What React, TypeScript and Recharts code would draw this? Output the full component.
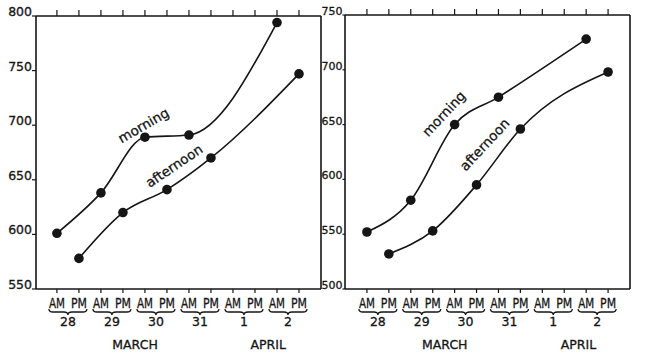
import React from 'react';
import { LineChart, Line, XAxis, YAxis, ReferenceDot } from 'recharts';

// ---- data ----
const slotLabels = ['AM', 'PM', 'AM', 'PM', 'AM', 'PM', 'AM', 'PM', 'AM', 'PM', 'AM', 'PM'];
const slotTicks = slotLabels.map((_, i) => i);
const dayLabels = ['28', '29', '30', '31', '1', '2'];
const dayTicks = [0.5, 2.5, 4.5, 6.5, 8.5, 10.5];
const monthLabels = ['MARCH', 'APRIL'];
const morningSlots = [0, 2, 4, 6, 10];
const afternoonSlots = [1, 3, 5, 7, 11];

const leftMorning = [601, 638, 689, 691, 794];
const leftAfternoon = [578, 620, 641, 670, 747];
const rightMorning = [552, 581, 650, 675, 728];
const rightAfternoon = [532, 553, 595, 646, 698];

const leftYTicks = [550, 600, 650, 700, 750, 800];
const rightYTicks = [500, 550, 600, 650, 700, 750];

const FONT = '"DejaVu Sans", "Liberation Sans", sans-serif';
const INK = '#151515';

const toSeries = (slots: number[], vals: number[]) => slots.map((s, k) => ({ i: s, v: vals[k] }));

const AmPmTick = (p: any) => (
  <text x={p.x} y={p.y + 15} textAnchor="middle" fontSize={13.5} fontFamily={FONT} fill={INK}
    stroke={INK} strokeWidth={0.3} textLength={16} lengthAdjust="spacingAndGlyphs">
    {slotLabels[p.payload.value]}
  </text>
);

const DayTick = (p: any) => {
  const idx = dayTicks.indexOf(p.payload.value);
  const x = p.x;
  const t = p.y - 2;
  const w = 19;
  const d = `M${x - w},${t} Q${x - w},${t + 3} ${x - w + 4},${t + 3} L${x - 4},${t + 3} Q${x},${t + 3} ${x},${t + 6} Q${x},${t + 3} ${x + 4},${t + 3} L${x + w - 4},${t + 3} Q${x + w},${t + 3} ${x + w},${t}`;
  return (
    <g>
      <path d={d} fill="none" stroke={INK} strokeWidth={1.3} />
      <text x={x} y={p.y + 14.5} textAnchor="middle" fontSize={12.5} fontFamily={FONT} fill={INK}
        stroke={INK} strokeWidth={0.3}>
        {dayLabels[idx]}
      </text>
    </g>
  );
};

const makeMonthTick = (ticks: number[]) => (p: any) => {
  const idx = ticks.indexOf(p.payload.value);
  return (
    <text x={p.x} y={p.y + 16} textAnchor="middle" fontSize={12.5} fontFamily={FONT} fill={INK}
      stroke={INK} strokeWidth={0.3}>
      {monthLabels[idx]}
    </text>
  );
};

const makeYTick = (size: number) => (p: any) => (
  <text x={p.x} y={p.y} textAnchor="end" fontSize={size} fontFamily={FONT} fill={INK}
    stroke={INK} strokeWidth={0.3}>
    {p.payload.value}
  </text>
);

const NoTick = () => <g />;

const rotLabel = (text: string, angle: number) => (props: any) => {
  const vb = props.viewBox || { x: 0, y: 0, width: 0, height: 0 };
  const cx = vb.x + (vb.width || 0) / 2;
  const cy = vb.y + (vb.height || 0) / 2;
  return (
    <text x={cx} y={cy} transform={`rotate(${angle} ${cx} ${cy})`} textAnchor="middle"
      dominantBaseline="central" fontSize={13.5} fontFamily={FONT} fill={INK} stroke={INK} strokeWidth={0.3}>
      {text}
    </text>
  );
};

type PanelProps = {
  width: number;
  margin: { top: number; right: number; bottom: number; left: number };
  yWidth: number;
  yTickSize: number;
  yFont: number;
  xDomain: [number, number];
  yDomain: [number, number];
  yTicks: number[];
  morning: number[];
  afternoon: number[];
  monthTicks: number[];
  morningLabel: { x: number; y: number; angle: number };
  afternoonLabel: { x: number; y: number; angle: number };
};

const Panel = (pp: PanelProps) => {
  const MonthTick = makeMonthTick(pp.monthTicks);
  const YTick = makeYTick(pp.yFont);
  return (
    <LineChart width={pp.width} height={356} margin={pp.margin}>
      <XAxis xAxisId="b1" dataKey="i" type="number" domain={pp.xDomain} ticks={slotTicks}
        orientation="bottom" height={22} tickSize={4} tickMargin={0} interval={0}
        axisLine={{ stroke: INK, strokeWidth: 1.6 }} tickLine={{ stroke: INK, strokeWidth: 1.2 }}
        tick={AmPmTick} allowDataOverflow />
      <XAxis xAxisId="b2" dataKey="i" type="number" domain={pp.xDomain} ticks={dayTicks}
        orientation="bottom" height={22} tickSize={0} tickMargin={0} interval={0}
        axisLine={false} tickLine={false} tick={DayTick} allowDataOverflow />
      <XAxis xAxisId="b3" dataKey="i" type="number" domain={pp.xDomain} ticks={pp.monthTicks}
        orientation="bottom" height={23} tickSize={0} tickMargin={0} interval={0}
        axisLine={false} tickLine={false} tick={MonthTick} allowDataOverflow />
      <XAxis xAxisId="top" dataKey="i" type="number" domain={pp.xDomain} ticks={slotTicks}
        orientation="top" height={1} tickSize={6} tickMargin={0} interval={0}
        axisLine={{ stroke: INK, strokeWidth: 1.6 }} tickLine={{ stroke: INK, strokeWidth: 1.2 }}
        tick={NoTick} allowDataOverflow />
      <YAxis yAxisId="l" type="number" domain={pp.yDomain} ticks={pp.yTicks} orientation="left"
        width={pp.yWidth} tickSize={pp.yTickSize} tickMargin={0} interval={0}
        axisLine={{ stroke: INK, strokeWidth: 1.6 }} tickLine={{ stroke: INK, strokeWidth: 1.2 }}
        tick={YTick} allowDataOverflow />
      <YAxis yAxisId="r" type="number" domain={pp.yDomain} ticks={pp.yTicks} orientation="right" width={1}
        tick={NoTick} tickSize={0} tickLine={false} axisLine={{ stroke: INK, strokeWidth: 1.6 }} allowDataOverflow />
      <Line xAxisId="b1" yAxisId="l" data={toSeries(morningSlots, pp.morning)} dataKey="v"
        type="monotone" stroke={INK} strokeWidth={1.6}
        dot={{ r: 4.8, fill: INK, stroke: INK, strokeWidth: 0 }} isAnimationActive={false} />
      <Line xAxisId="b1" yAxisId="l" data={toSeries(afternoonSlots, pp.afternoon)} dataKey="v"
        type="monotone" stroke={INK} strokeWidth={1.6}
        dot={{ r: 4.8, fill: INK, stroke: INK, strokeWidth: 0 }} isAnimationActive={false} />
      <ReferenceDot xAxisId="b1" yAxisId="l" x={pp.morningLabel.x} y={pp.morningLabel.y} r={0}
        fill="none" stroke="none" label={rotLabel('morning', pp.morningLabel.angle)} />
      <ReferenceDot xAxisId="b1" yAxisId="l" x={pp.afternoonLabel.x} y={pp.afternoonLabel.y} r={0}
        fill="none" stroke="none" label={rotLabel('afternoon', pp.afternoonLabel.angle)} />
    </LineChart>
  );
};

export default function App() {
  return (
    <div style={{ position: 'absolute', left: 0, top: 0, width: 650, height: 356, background: '#fff', overflow: 'hidden' }}>
      <div style={{ position: 'absolute', left: 0, top: 0 }}>
        <Panel width={325} margin={{ top: 15, right: 3, bottom: 0, left: 0 }} yWidth={36}
          yTickSize={4} yFont={12.5}
          xDomain={[-0.95, 12]} yDomain={[550, 800]} yTicks={leftYTicks}
          morning={leftMorning} afternoon={leftAfternoon} monthTicks={[3.55, 9.6]}
          morningLabel={{ x: 3.93, y: 700, angle: -30 }}
          afternoonLabel={{ x: 5.32, y: 663, angle: -34 }} />
      </div>
      <div style={{ position: 'absolute', left: 295, top: 0 }}>
        <Panel width={355} margin={{ top: 14, right: 19, bottom: 0, left: 0 }} yWidth={50}
          yTickSize={2.5} yFont={11}
          xDomain={[-1, 12]} yDomain={[500, 750]} yTicks={rightYTicks}
          morning={rightMorning} afternoon={rightAfternoon} monthTicks={[3.55, 9.65]}
          morningLabel={{ x: 3.5, y: 660, angle: -47 }}
          afternoonLabel={{ x: 5.36, y: 632, angle: -47 }} />
      </div>
    </div>
  );
}
